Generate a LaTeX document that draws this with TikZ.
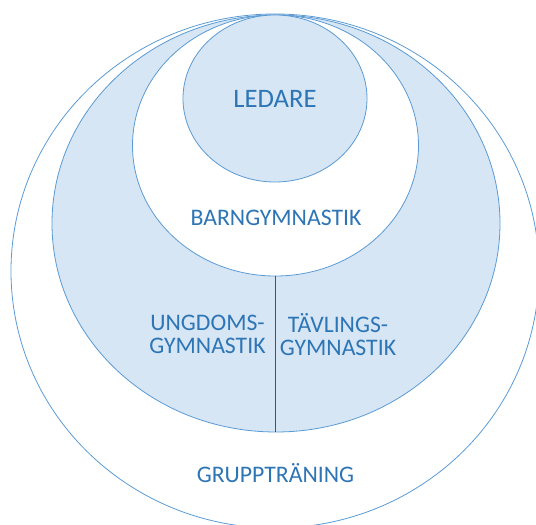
\documentclass[tikz,border=0pt]{standalone}
\usepackage{fontspec}
\setmainfont{Carlito}
\usetikzlibrary{shapes.geometric}
\definecolor{rimblue}{HTML}{5B9BD5}
\definecolor{fillblue}{HTML}{D6E6F4}
\definecolor{textblue}{HTML}{2E75B6}
\definecolor{splitblue}{HTML}{1F5C9E}

\tikzset{
  ring/.style={ellipse, draw=rimblue, line width=0.6pt, inner sep=0pt},
  lbl/.style={text=textblue, font=\fontsize{17.8}{16.7}\selectfont, align=center, inner sep=0pt}
}

\begin{document}
\begin{tikzpicture}[x=0.75pt,y=-0.75pt]
\useasboundingbox (0,0) rectangle (536,525);
\clip (0,0) rectangle (536,525);

% nested rings, all touching at the top
\node[ring, fill=white, minimum width=396pt, minimum height=385.5pt] (grupp) at (275,271) {};
\node[ring, fill=fillblue, minimum width=336pt, minimum height=312.75pt] (ungdom) at (276,223.5) {};
\node[ring, fill=white, minimum width=214.5pt, minimum height=195.75pt] (barn) at (275.5,145.5) {};
\node[ring, fill=fillblue, minimum width=138pt, minimum height=125.25pt,
      text=textblue, font=\fontsize{20}{24}\selectfont] (ledare) at (275,98.5) {LEDARE};

% split of the blue band
\draw[splitblue, line width=0.75pt] (barn.south) -- (barn.south |- ungdom.south);

\node[lbl, anchor=base] (barnlbl) at (276,225.3) {BARNGYMNASTIK};
\node[lbl] (ungdomlbl) at (207.5,334.5) {UNGDOMS-\\GYMNASTIK};
\node[lbl] (tavlinglbl) at (338,334.5) {TÄVLINGS-\\GYMNASTIK};
\node[lbl, anchor=base] (grupplbl) at (275.5,482) {GRUPPTRÄNING};
\end{tikzpicture}
\end{document}
